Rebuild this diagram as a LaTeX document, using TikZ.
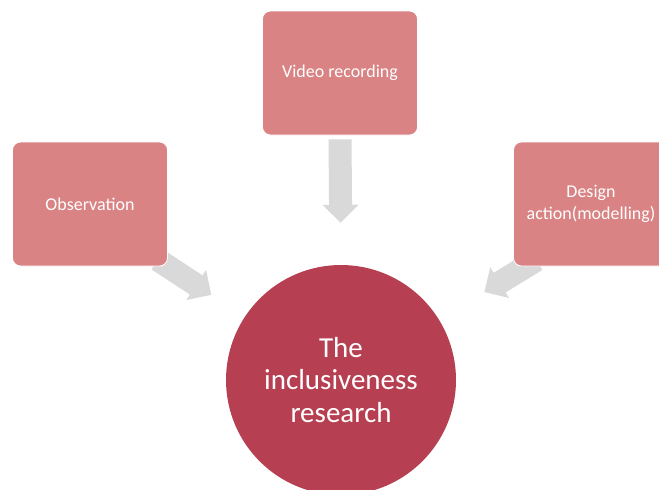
\documentclass[tikz,border=0pt]{standalone}
\usepackage{fontspec}
\setmainfont{Carlito}
\usetikzlibrary{arrows.meta,backgrounds}

\definecolor{boxred}{RGB}{217,131,132}
\definecolor{hubred}{RGB}{182,64,82}
\definecolor{arrowgrey}{RGB}{217,217,217}

\begin{document}
\begin{tikzpicture}[x=1pt,y=-1pt,
	source/.style={rectangle,rounded corners=8pt,fill=boxred,draw=white,line width=.8pt,
		minimum width=155pt,minimum height=124pt,inner sep=0pt,align=center,
		text=white,font=\fontsize{18}{22}\selectfont},
	hub/.style={circle,fill=hubred,minimum size=230pt,inner sep=0pt,align=center,
		text=white,font=\fontsize{29}{32.5}\selectfont},
	fatarrow/.style={arrowgrey,line width=23pt,-{Triangle[width=35pt,length=18pt]}}]
	\useasboundingbox (0,0) rectangle (659,490);
	\clip (0,0) rectangle (659,490);
	\node[hub] (research) at (341,380) {The\\inclusiveness\\research};
	\node[source] (video) at (340,73) {Video recording};
	\node[source] (obs) at (90,204) {Observation};
	\node[source] (design) at (591,204) {Design\\action(modelling)};
	\draw[fatarrow,shorten <=4pt,shorten >=42pt] (video.south) -- (research.north);
	\begin{scope}[on background layer]
		\draw[fatarrow,shorten <=-12pt,shorten >=40pt] (obs.south east) -- (research);
		\draw[fatarrow,shorten <=-12pt,shorten >=53pt] ([xshift=13pt]design.south west) -- (research);
	\end{scope}
\end{tikzpicture}
\end{document}
